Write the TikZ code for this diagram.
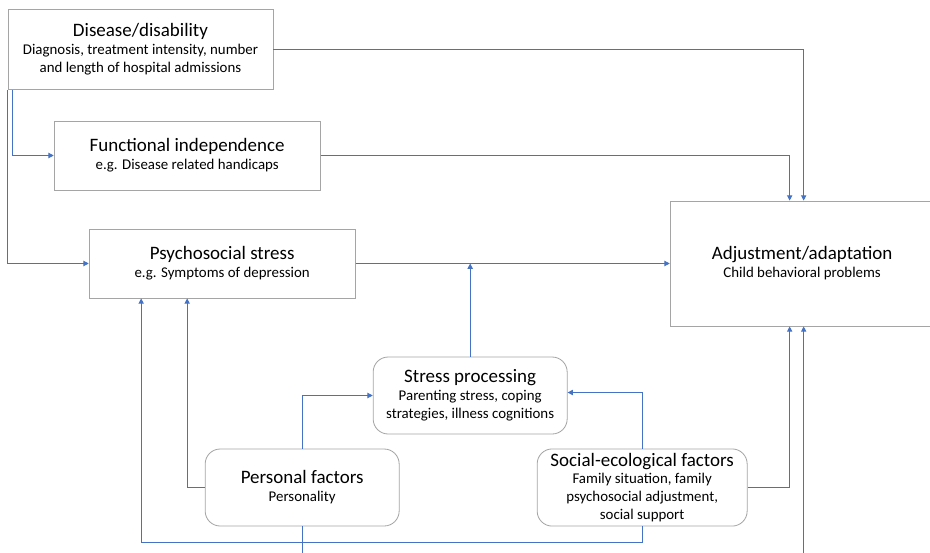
\documentclass[tikz,border=0pt]{standalone}
\usepackage{fontspec}
\setmainfont{Carlito}
\usetikzlibrary{arrows.meta, positioning}
\definecolor{boxgray}{HTML}{A5A5A5}
\definecolor{linkblue}{HTML}{4472C4}
\newcommand{\headfont}{\fontsize{16.2}{19}\selectfont}

\begin{document}
\begin{tikzpicture}[node distance=3.24cm]
\tikzstyle{plain} = [rectangle, draw=boxgray, line width=0.7pt, fill=white, align=center, text centered, font=\fontsize{12.7}{15.3}\selectfont]
\tikzstyle{soft} = [plain, rounded corners=0.45cm]
\tikzstyle{link} = [draw=linkblue, line width=0.8pt, -{Triangle[length=4.5pt, width=4.5pt]}]

\useasboundingbox (0,0) rectangle (27.9,-16.56);
\clip (0,0) rectangle (27.9,-16.56);

\node (disease) [plain, minimum width=7.95cm, minimum height=2.4cm] at (4.215,-1.485) {{\headfont Disease/disability}\\Diagnosis, treatment intensity, number\\and length of hospital admissions};
\node (func) [plain, minimum width=7.98cm, minimum height=2.07cm, below of=disease, xshift=1.4cm, yshift=0.06cm] {{\headfont Functional independence}\\e.g. Disease related handicaps};
\node (psycho) [plain, minimum width=7.98cm, minimum height=2.07cm, below of=func, xshift=1.05cm] {{\headfont Psychosocial stress}\\e.g. Symptoms of depression};
\node (adjust) [plain, minimum width=7.92cm, minimum height=3.75cm, right of=psycho, xshift=14.16cm] {{\headfont Adjustment/adaptation}\\Child behavioral problems};

\node (stress) [soft, minimum width=5.82cm, minimum height=2.31cm, below of=psycho, xshift=7.44cm, yshift=-0.72cm] {{\headfont Stress processing}\\Parenting stress, coping\\strategies, illness cognitions};
\node (personal) [soft, minimum width=5.82cm, minimum height=2.31cm, below of=stress, xshift=-5.04cm, yshift=0.48cm] {{\headfont Personal factors}\\Personality};
\node (social) [soft, minimum width=6.3cm, minimum height=2.31cm, right of=personal, xshift=6.96cm] {{\headfont Social-ecological factors}\\Family situation, family\\psychosocial adjustment,\\social support};

% upper paths
\draw [link] (disease.east) -| ([xshift=0.045cm]adjust.north);
\draw [link] (func.east) -| ([xshift=-0.375cm]adjust.north);
\draw [link] ([xshift=0.15cm]disease.south west) |- (func.west);
\draw [link] (disease.south west) |- (psycho.west);
\draw [link] (psycho.east) -- (adjust.west);
\draw [link] (stress.north) -- (stress.north |- psycho.east);

% lower paths
\draw [link] (personal.west) -| ([xshift=-1.05cm]psycho.south);
\draw [link] (personal.north) |- (stress.west);
\draw [link] (social.north) |- ([yshift=0.09cm]stress.east);
\draw [link] (social.south) -- ++(0,-0.465) -| ([xshift=-2.43cm]psycho.south);
\draw [link] (social.east) -| ([xshift=-0.375cm]adjust.south);
\draw [link] (personal.south) -- ++(0,-1.5) -| ([xshift=0.045cm]adjust.south);

\end{tikzpicture}
\end{document}
